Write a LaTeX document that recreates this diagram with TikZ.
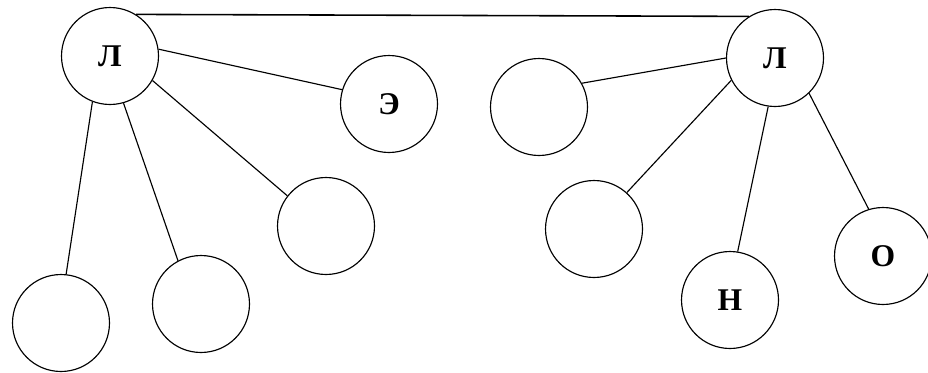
\documentclass[tikz,border=0pt]{standalone}
\usepackage{fontspec}
\setmainfont{Liberation Serif}
\usetikzlibrary{positioning}

\begin{document}
\begin{tikzpicture}[x=0.02cm, y=-0.02cm,
		vtx/.style={draw, circle, line width=0.65pt, minimum size=1.94cm, inner sep=0pt, font=\fontsize{18}{18}\selectfont\bfseries},
		link/.style={line width=0.65pt}]
	\useasboundingbox (0,0) rectangle (928,372);
	% left tree
	\node[vtx] (l) at (110,56) {Л};
	\node[vtx] (le) at (389,104) {Э};
	\node[vtx] (l3) at (326,226) {};
	\node[vtx] (l2) at (201,304) {};
	\node[vtx] (l1) at (61,323) {};
	% right tree
	\node[vtx] (r) at (775,58) {Л};
	\node[vtx] (ra) at (539,107) {};
	\node[vtx] (rb) at (594,229) {};
	\node[vtx] (rn) at (730,300) {Н};
	\node[vtx] (ro) at (883,256) {О};
	\draw[link, line width=0.9pt] (l.58) -- (r.122);
	\draw[link] (l.8) -- (le.163);
	\draw[link] (l.-30) -- (l3.142);
	\draw[link] (l.-74) -- (l2.118);
	\draw[link] (l.-111) -- (l1.84);
	\draw[link] (r.180) -- (ra.29);
	\draw[link] (r.207) -- (rb.48);
	\draw[link] (r.-98) -- (rn.81);
	\draw[link] (r.-46) -- (ro.107);
\end{tikzpicture}
\end{document}
